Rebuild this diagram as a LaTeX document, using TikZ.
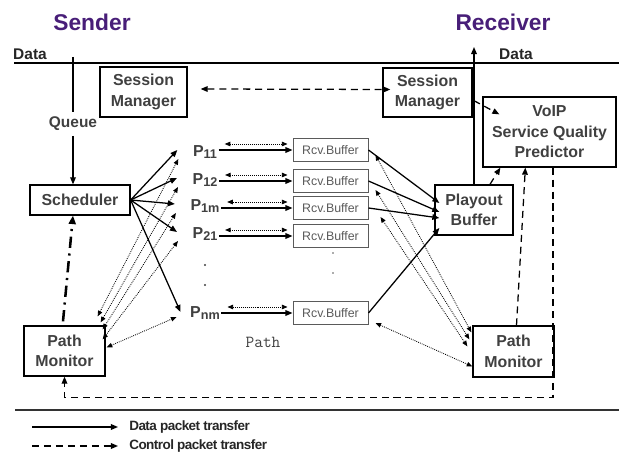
\documentclass[tikz,border=0pt]{standalone}
\usepackage{fontspec}
\setmainfont{Liberation Sans}
\newfontfamily\legfont{Liberation Sans}[LetterSpace=-4]
\usepackage{xcolor}
\definecolor{ttlpurple}{RGB}{72,30,120}
\definecolor{lblgray}{RGB}{64,64,64}
\definecolor{bufgray}{RGB}{90,90,90}
\usetikzlibrary{arrows.meta,positioning,calc}
\newcommand{\pidx}[1]{P\raisebox{-0.3ex}{\fontsize{9}{9}\selectfont #1}}

\begin{document}
\begin{tikzpicture}[x=0.025cm, y=-0.025cm,
        mainbox/.style={rectangle, draw=black, line width=0.9pt, align=center, inner sep=0pt,
                        text=lblgray, font=\fontsize{11.3}{14.5}\selectfont\bfseries},
        rcvbox/.style={rectangle, draw=bufgray, line width=0.7pt, minimum width=1.875cm,
                       minimum height=0.575cm, inner sep=0pt, text=bufgray, font=\fontsize{8.8}{10}\selectfont},
        plbl/.style={text=lblgray, font=\fontsize{11.3}{12}\selectfont\bfseries, inner sep=1pt},
        ttl/.style={text=ttlpurple, font=\fontsize{16.2}{18}\selectfont\bfseries},
        txtlbl/.style={text=black!85, font=\fontsize{11}{12}\selectfont\bfseries},
        leglbl/.style={text=black!85, font=\legfont\fontsize{9.6}{10}\selectfont\bfseries, inner sep=0pt},
        datarr/.style={-{Triangle[length=5pt,width=4pt]}, line width=0.9pt},
        ctrlarr/.style={-{Triangle[length=5pt,width=4pt]}, line width=0.9pt, dash pattern=on 5pt off 3.5pt},
        ctrlboth/.style={{Triangle[length=5pt,width=4pt]}-{Triangle[length=5pt,width=4pt]},
                         line width=0.9pt, dash pattern=on 5pt off 3.5pt},
        probearr/.style={{Triangle[length=4pt,width=3.2pt]}-{Triangle[length=4pt,width=3.2pt]},
                         line width=0.6pt, dash pattern=on 0.6pt off 0.8pt},
        monarr/.style={-{Triangle[length=6pt,width=5pt]}, line width=1.8pt,
                       dash pattern=on 8pt off 4pt on 1.5pt off 4pt}
      ]
        \useasboundingbox (0,0) rectangle (619,452);

        \node[ttl] (sender) at (92,22) {Sender};
        \node[ttl] (receiver) at (503,22) {Receiver};
        \node[txtlbl] (dataS) at (30,54) {Data};
        \node[txtlbl] (dataR) at (516,54) {Data};
        \draw[line width=1pt] (14,63) -- (619,63);
        \draw[line width=1pt, black!80] (15,410) -- (619,410);

        \node[mainbox, minimum width=2.175cm, minimum height=1.25cm] (smgrS) at (143.5,92) {Session\\Manager};
        \node[mainbox, minimum width=2.225cm, minimum height=1.225cm] (smgrR) at (427.5,92.5) {Session\\Manager};
        \node[mainbox, minimum width=3.325cm, minimum height=1.75cm, fill=white] (voip) at (549.5,132) {VoIP\\Service Quality\\Predictor};
        \node[mainbox, minimum width=2.5cm, minimum height=0.75cm] (sched) at (80,200) {Scheduler};
        \node[mainbox, minimum width=1.95cm, minimum height=1.25cm] (playout) at (474,210) {Playout\\Buffer};
        \node[mainbox, minimum width=2.025cm, minimum height=1.25cm] (pmonS) at (64.5,351) {Path\\Monitor};
        \node[mainbox, minimum width=2.025cm, minimum height=1.275cm] (pmonR) at (513.5,351.5) {Path\\Monitor};
        \node[txtlbl, text=lblgray] (queue) at (73,124) {Queue};
        \coordinate (dataIn) at (73,57);
        \coordinate (dataOut) at (474,47);

        \node[plbl] (p11) at (205,152) {\pidx{11}};
        \node[plbl] (p12) at (205,180) {\pidx{12}};
        \node[plbl] (p1m) at (205,206) {\pidx{1m}};
        \node[plbl] (p21) at (205,234) {\pidx{21}};
        \node[plbl] (pnm) at (205,313) {\pidx{nm}};
        \node[rcvbox] (b11) at (330.5,150) {Rcv.Buffer};
        \node[rcvbox] (b12) at (330.5,181) {Rcv.Buffer};
        \node[rcvbox] (b1m) at (330.5,208) {Rcv.Buffer};
        \node[rcvbox] (b21) at (330.5,236) {Rcv.Buffer};
        \node[rcvbox] (bnm) at (330.5,313) {Rcv.Buffer};
        \node[font=\fontsize{12}{12}\selectfont\ttfamily, text=lblgray] (path) at (263,342) {Path};
        \foreach \y in {265,285} \fill[lblgray] (205,\y) circle[radius=0.8pt];
        \foreach \y in {253,273} \fill[bufgray] (333,\y) circle[radius=0.7pt];

        \draw[line width=0.9pt] (dataIn) -- (queue.north);
        \draw[datarr] (queue.south) -- (queue.south |- sched.north);
        \draw[datarr] (playout.north) -- (dataOut);

        \draw[ctrlboth] ([shift={(13,-3)}]smgrS.east) -- ([shift={(8,-3)}]smgrR.west);
        \draw[ctrlarr] ([shift={(1,8)}]smgrR.east) -- ([shift={(17,18)}]voip.north west);
        \draw[ctrlarr] ([shift={(16,0)}]playout.north) -- ([shift={(18,0)}]voip.south west);
        \draw[ctrlarr] ([shift={(3,0)}]pmonR.north) -- ([shift={(43,0)}]voip.south west);
        \draw[ctrlarr] ([shift={(3.5,0)}]voip.south) -- ++(0,230) -| (pmonS.south);
        \draw[monarr] ([shift={(-1.5,-4)}]pmonS.north) -- ([shift={(-7,0)}]sched.south);

        \foreach \p in {p11,p12,p1m,p21}
          \draw[datarr] (sched.east) -- ([shift={(-14,-2)}]\p.west);
        \draw[datarr] (sched.east) -- ([shift={(-8,-1)}]pnm.west);

        \foreach \p/\b in {p11/b11,p12/b12,p1m/b1m,p21/b21,pnm/bnm} {
          \draw[datarr] (\p.east |- \b.west) -- (\b.west);
          \draw[probearr] ([shift={(6,-6)}]\p.east |- \b.west) -- ([shift={(-5,-6)}]\b.west);
        }

        \foreach \p/\dx/\dy in {p11/-8/-9,p12/-5/-3,p1m/-3/4,p21/-3/14}
          \draw[probearr] ([shift={(\dx,\dy)}]pmonS.north east) -- ([shift={(-13,7)}]\p.west);
        \draw[probearr] ([shift={(1,22)}]pmonS.north east) -- ([shift={(-12,4)}]pnm.west);

        \draw[datarr] (b11.east) -- ([shift={(5,-7)}]playout.west);
        \draw[datarr] (b12.east) -- ([shift={(5,2)}]playout.west);
        \draw[datarr] (b1m.east) -- ([shift={(5,8)}]playout.west);
        \draw[datarr] (bnm.east) -- ([shift={(5,18)}]playout.west);

        \draw[probearr] ([shift={(7,5)}]b11.east) -- ([shift={(-1,7)}]pmonR.north west);
        \draw[probearr] ([shift={(7,9)}]b12.east) -- ([shift={(-3,14)}]pmonR.north west);
        \draw[probearr] ([shift={(12,9)}]b1m.east) -- ([shift={(-5,21)}]pmonR.north west);
        \draw[probearr] ([shift={(7,10)}]bnm.east) -- ([shift={(0,15)}]pmonR.west);

        \node[leglbl, anchor=west] (legData) at (129,427) {Data packet transfer};
        \node[leglbl, anchor=west] (legCtrl) at (129,446) {Control packet transfer};
        \coordinate (legA) at (32,427);
        \coordinate (legB) at (32,446);
        \draw[datarr] (legA) -- ([shift={(-11,0)}]legData.west);
        \draw[ctrlarr] (legB) -- ([shift={(-11,0)}]legCtrl.west);
      \end{tikzpicture}
\end{document}
